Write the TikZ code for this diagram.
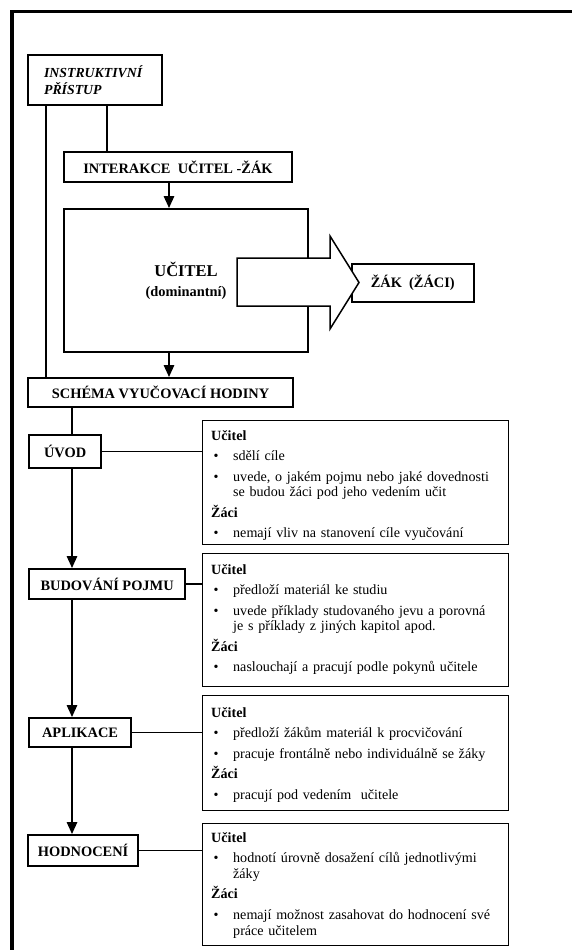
\documentclass[tikz,border=0pt]{standalone}
\usepackage{fontspec}
\setmainfont{Liberation Serif}
\usetikzlibrary{arrows.meta}
\newcommand{\bitem}[1]{\par\noindent\hangindent=22pt\hangafter=1\makebox[22pt][l]{\hspace{2.5pt}\textbullet}#1\par}
\tikzset{
  lbl/.style={draw, line width=2.2pt, font=\fontsize{14.4}{16}\selectfont\bfseries, inner sep=0pt, anchor=north west},
  infobox/.style={draw, line width=1.3pt, anchor=north west, inner sep=0pt},
  infotext/.style={anchor=north west, inner sep=0pt, text width=292pt,
    font=\fontsize{14.1}{15.7}\selectfont\setlength{\parskip}{4.8pt}\setlength{\parindent}{0pt}\raggedright},
  conn/.style={line width=1.6pt},
  arr/.style={conn, -{Triangle[length=12pt,width=10.5pt]}},
  blockarrow/.style={line width=1.5pt, fill=white, line join=miter},
  frame/.style={line width=3.5pt, line join=miter},
}
\begin{document}
\begin{tikzpicture}[x=1pt, y=-1pt]
\useasboundingbox (0,0) rectangle (572,950);
\draw[frame] (12,950) -- (12,11.5) -- (572,11.5);

% top part
\node[lbl, minimum width=134pt, minimum height=50pt, inner xsep=16pt, text width=102pt, align=left,
      font=\fontsize{13.8}{17}\selectfont\bfseries\itshape] (instr) at (27,54) {INSTRUKTIVNÍ\\PŘÍSTUP};
\node[lbl, line width=2pt, minimum width=228pt, minimum height=30pt] (inter) at (63,151) {INTERAKCE~~UČITEL -ŽÁK};
\node[lbl, line width=2pt, minimum width=244pt, minimum height=143pt, align=center,
      font=\fontsize{14.4}{20}\selectfont\bfseries] (ucitel) at (63,208)
      {{\fontsize{16.5}{20}\selectfont UČITEL}\\(dominantní)};
\node[lbl, line width=1.5pt, minimum width=122pt, minimum height=38pt] (zak) at (351,263) {ŽÁK~~(ŽÁCI)};
\draw[blockarrow] (237,258) -- (330,258) -- (330,236) -- (359,282.5) -- (330,329) -- (330,306) -- (237,306) -- cycle;

\node[lbl, minimum width=265pt, minimum height=29pt] (schema) at (27,377) {SCHÉMA VYUČOVACÍ HODINY};

% phases
\node[lbl, minimum width=72pt, minimum height=33pt] (uvod) at (28,434) {ÚVOD};
\node[lbl, minimum width=156pt, minimum height=30pt] (budovani) at (28,568) {BUDOVÁNÍ POJMU};
\node[lbl, minimum width=102pt, minimum height=29pt] (aplikace) at (28,717) {APLIKACE};
\node[lbl, minimum width=110pt, minimum height=31pt] (hodnoceni) at (27,834) {HODNOCENÍ};

% info boxes
\node[infobox, minimum width=306pt, minimum height=124pt] (b1) at (202,420) {};
\node[infobox, minimum width=306pt, minimum height=133pt] (b2) at (202,553) {};
\node[infobox, minimum width=306pt, minimum height=115pt] (b3) at (202,695) {};
\node[infobox, minimum width=306pt, minimum height=122pt] (b4) at (202,823) {};

\node[infotext] (t1) at (211,430) {\textbf{Učitel}\par
  \bitem{sdělí cíle}
  \bitem{uvede, o jakém pojmu nebo jaké dovednosti\newline se budou žáci pod jeho vedením učit}
  \textbf{Žáci}\par
  \bitem{nemají vliv na stanovení cíle vyučování}};
\node[infotext] (t2) at (211,564) {\textbf{Učitel}\par
  \bitem{předloží materiál ke studiu}
  \bitem{uvede příklady studovaného jevu a porovná\newline je s příklady z jiných kapitol apod.}
  \textbf{Žáci}\par
  \bitem{naslouchají a pracují podle pokynů učitele}};
\node[infotext] (t3) at (211,707) {\textbf{Učitel}\par
  \bitem{předloží žákům materiál k procvičování}
  \bitem{pracuje frontálně nebo individuálně se žáky}
  \textbf{Žáci}\par
  \bitem{pracují pod vedením~ učitele}};
\node[infotext] (t4) at (211,832) {\textbf{Učitel}\par
  \bitem{hodnotí úrovně dosažení cílů jednotlivými\newline žáky}
  \textbf{Žáci}\par
  \bitem{nemají možnost zasahovat do hodnocení své\newline práce učitelem}};

% connectors
\draw[conn] (instr.south -| 46,0) -- (schema.north -| 46,0);
\draw[conn] (instr.south -| 107,0) -- (inter.north -| 107,0);
\draw[arr] (inter.south -| 169,0) -- (ucitel.north -| 169,0);
\draw[arr] (ucitel.south -| 169,0) -- (schema.north -| 169,0);
\draw[conn] (schema.south -| 72,0) -- (uvod.north -| 72,0);
\draw[arr] (uvod.south -| 72,0) -- (budovani.north -| 72,0);
\draw[arr] (budovani.south -| 72,0) -- (aplikace.north -| 72,0);
\draw[arr] (aplikace.south -| 72,0) -- (hodnoceni.north -| 72,0);
\draw[conn, line width=1.3pt] (uvod.east) -- (uvod.east -| b1.west);
\draw[conn, line width=1.3pt] (budovani.east) -- (budovani.east -| b2.west);
\draw[conn, line width=1.3pt] (aplikace.east) -- (aplikace.east -| b3.west);
\draw[conn, line width=1.3pt] (hodnoceni.east) -- (hodnoceni.east -| b4.west);
\end{tikzpicture}
\end{document}
